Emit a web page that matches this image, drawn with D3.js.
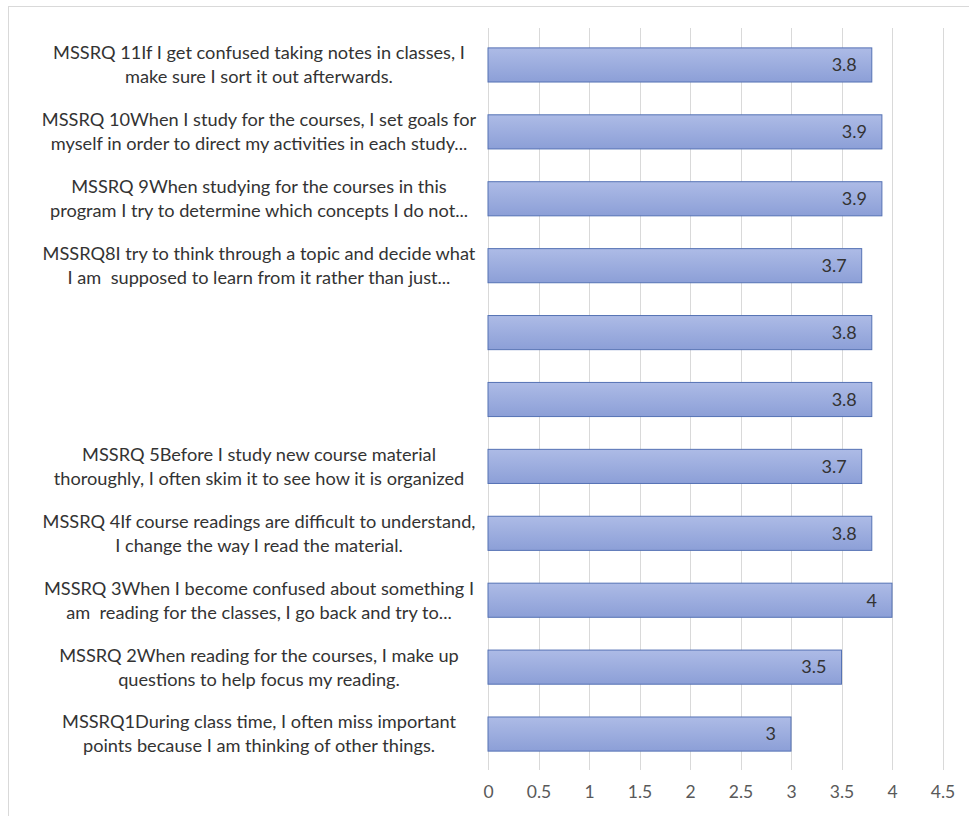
<!DOCTYPE html>
<html>
<head>
<meta charset="utf-8">
<script src="https://cdn.jsdelivr.net/npm/d3@7"></script>
<style>
  body { margin: 0; background: #fff; }
  svg { display: block; font-family: Lato, "Open Sans", sans-serif; }
  tspan { white-space: pre; }
</style>
</head>
<body>
<div id="chart"></div>
<script>
// Categorias (de baixo para cima, como no gráfico)
const items = ['MSSRQ1', 'MSSRQ2', 'MSSRQ3', 'MSSRQ4', 'MSSRQ5', 'MSSRQ6', 'MSSRQ7', 'MSSRQ8', 'MSSRQ9', 'MSSRQ10', 'MSSRQ11'];
// Médias
const means = [3, 3.5, 4, 3.8, 3.7, 3.8, 3.8, 3.7, 3.9, 3.9, 3.8];
// Textos dos rótulos (duas linhas cada; 6 e 7 sem texto)
const labelLines = [
  ['MSSRQ1During class time, I often miss important', 'points because I am thinking of other things.'],
  ['MSSRQ 2When reading for the courses, I make up', 'questions to help focus my reading.'],
  ['MSSRQ 3When I become confused about something I', 'am  reading for the classes, I go back and try to...'],
  ['MSSRQ 4If course readings are difficult to understand,', 'I change the way I read the material.'],
  ['MSSRQ 5Before I study new course material', 'thoroughly, I often skim it to see how it is organized'],
  [],
  [],
  ['MSSRQ8I try to think through a topic and decide what', 'I am  supposed to learn from it rather than just...'],
  ['MSSRQ 9When studying for the courses in this', 'program I try to determine which concepts I do not...'],
  ['MSSRQ 10When I study for the courses, I set goals for', 'myself in order to direct my activities in each study...'],
  ['MSSRQ 11If I get confused taking notes in classes, I', 'make sure I sort it out afterwards.']
];
// Ticks do eixo x
const xTicks = [0, 0.5, 1, 1.5, 2, 2.5, 3, 3.5, 4, 4.5];

const width = 969, height = 816;

const svg = d3.select('#chart')
  .append('svg')
  .attr('width', width)
  .attr('height', height);

// Moldura do gráfico
svg.append('rect')
  .attr('x', 8.5).attr('y', 6.5)
  .attr('width', width + 10).attr('height', height + 10)
  .attr('fill', '#fff')
  .attr('stroke', '#d9d9d9');

// Gradiente das barras
const grad = svg.append('defs').append('linearGradient')
  .attr('id', 'barGrad')
  .attr('x1', 0).attr('y1', 0).attr('x2', 0).attr('y2', 1);
grad.append('stop').attr('offset', '0%').attr('stop-color', '#adbbe6');
grad.append('stop').attr('offset', '100%').attr('stop-color', '#8c9fd7');

// Escalas
const x = d3.scaleLinear()
  .domain([0, 4.5])
  .range([488, 942.5]);

const y = d3.scaleBand()
  .domain(items.slice().reverse())
  .range([31.5, 767.5])
  .paddingInner(0.49)
  .paddingOuter(0.245);

// Linhas de grade
svg.append('g')
  .selectAll('line')
  .data(xTicks)
  .join('line')
  .attr('x1', d => Math.round(x(d)) + 0.5)
  .attr('x2', d => Math.round(x(d)) + 0.5)
  .attr('y1', 28)
  .attr('y2', 770)
  .attr('stroke', '#d9d9d9');

// Eixo x
const xAxis = svg.append('g')
  .attr('transform', 'translate(0,783)')
  .call(d3.axisBottom(x).tickValues(xTicks).tickSize(0).tickFormat(d3.format('')));
xAxis.select('.domain').remove();
xAxis.selectAll('text')
  .attr('font-size', 17.5)
  .attr('font-family', 'Lato, "Open Sans", sans-serif')
  .attr('fill', '#595959');

// Barras
const bars = svg.append('g');
bars.selectAll('rect')
  .data(items)
  .join('rect')
  .attr('x', x(0))
  .attr('y', d => y(d))
  .attr('width', (d, i) => x(means[i]) - x(0))
  .attr('height', y.bandwidth())
  .attr('fill', 'url(#barGrad)')
  .attr('stroke', '#5572b4')
  .attr('stroke-width', 1);

// Rótulos de valor
svg.append('g')
  .selectAll('text')
  .data(items)
  .join('text')
  .attr('x', (d, i) => x(means[i]) - 15)
  .attr('y', d => y(d) + y.bandwidth() / 2)
  .attr('dy', '0.35em')
  .attr('text-anchor', 'end')
  .attr('font-size', 18)
  .attr('fill', '#333')
  .text((d, i) => means[i]);

// Rótulos das categorias
const labels = svg.append('g')
  .selectAll('text')
  .data(items)
  .join('text')
  .attr('text-anchor', 'middle')
  .attr('font-size', 18.2)
  .attr('fill', '#333');

labels.each(function (d, i) {
  const lines = labelLines[i];
  const cy = y(d) + y.bandwidth() / 2;
  d3.select(this).selectAll('tspan')
    .data(lines)
    .join('tspan')
    .attr('x', 259)
    .attr('y', (l, j) => cy + (j - (lines.length - 1) / 2) * 24)
    .attr('dy', '0.35em')
    .text(l => l);
});
</script>
</body>
</html>
